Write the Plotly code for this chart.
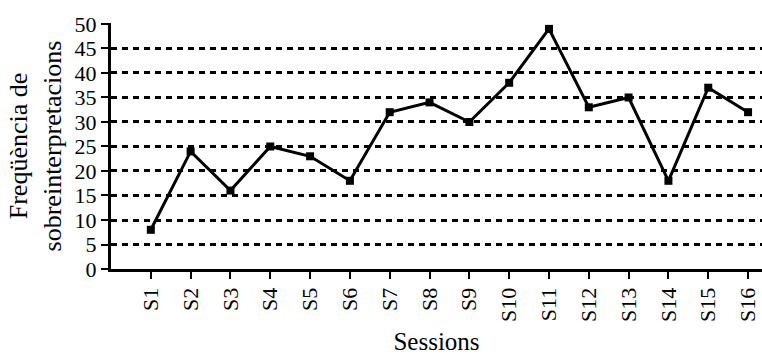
import plotly.graph_objects as go

sessions = ["S1", "S2", "S3", "S4", "S5", "S6", "S7", "S8",
            "S9", "S10", "S11", "S12", "S13", "S14", "S15", "S16"]
freq = [8, 24, 16, 25, 23, 18, 32, 34, 30, 38, 49, 33, 35, 18, 37, 32]
y_ticks = [0, 5, 10, 15, 20, 25, 30, 35, 40, 45, 50]

fam = "Liberation Serif, Times New Roman, serif"
tick_font = dict(family=fam, size=22, color="black")
xtitle_font = dict(family=fam, size=25, color="black")
ytitle_font = dict(family=fam, size=26, color="black")

fig = go.Figure()
fig.add_trace(go.Scatter(
    x=list(range(len(sessions))), y=freq, mode="lines+markers",
    line=dict(color="black", width=3),
    marker=dict(symbol="square", size=8, color="black"),
    showlegend=False,
))

fig.update_layout(
    width=762, height=358,
    margin=dict(l=111, r=0, t=23, b=89),
    paper_bgcolor="white", plot_bgcolor="white",
    font=tick_font,
    xaxis=dict(
        range=[-1, 15.35],
        tickmode="array", tickvals=list(range(len(sessions))), ticktext=sessions,
        tickangle=-90, ticks="outside", ticklen=7, tickwidth=2, tickcolor="black",
        tickfont=tick_font, ticklabeloverflow="allow", automargin=False,
        showline=True, linecolor="black", linewidth=3,
        showgrid=False, zeroline=False,
        title=dict(text="Sessions", standoff=12, font=xtitle_font),
    ),
    yaxis=dict(
        range=[0, 50.2],
        tickmode="array", tickvals=y_ticks,
        ticks="outside", ticklen=7, tickwidth=2, tickcolor="black",
        tickfont=tick_font, automargin=False,
        showline=True, linecolor="black", linewidth=3,
        showgrid=True, gridcolor="black", gridwidth=2.5, griddash="6px,5px",
        zeroline=False,
        title=dict(text="Freqüència de<br>sobreinterpretacions", standoff=6, font=ytitle_font),
    ),
)

fig.write_html(
    "out.html",
    config={"displayModeBar": False},
    post_script="document.body.style.margin='0';document.body.style.overflow='hidden';",
)
